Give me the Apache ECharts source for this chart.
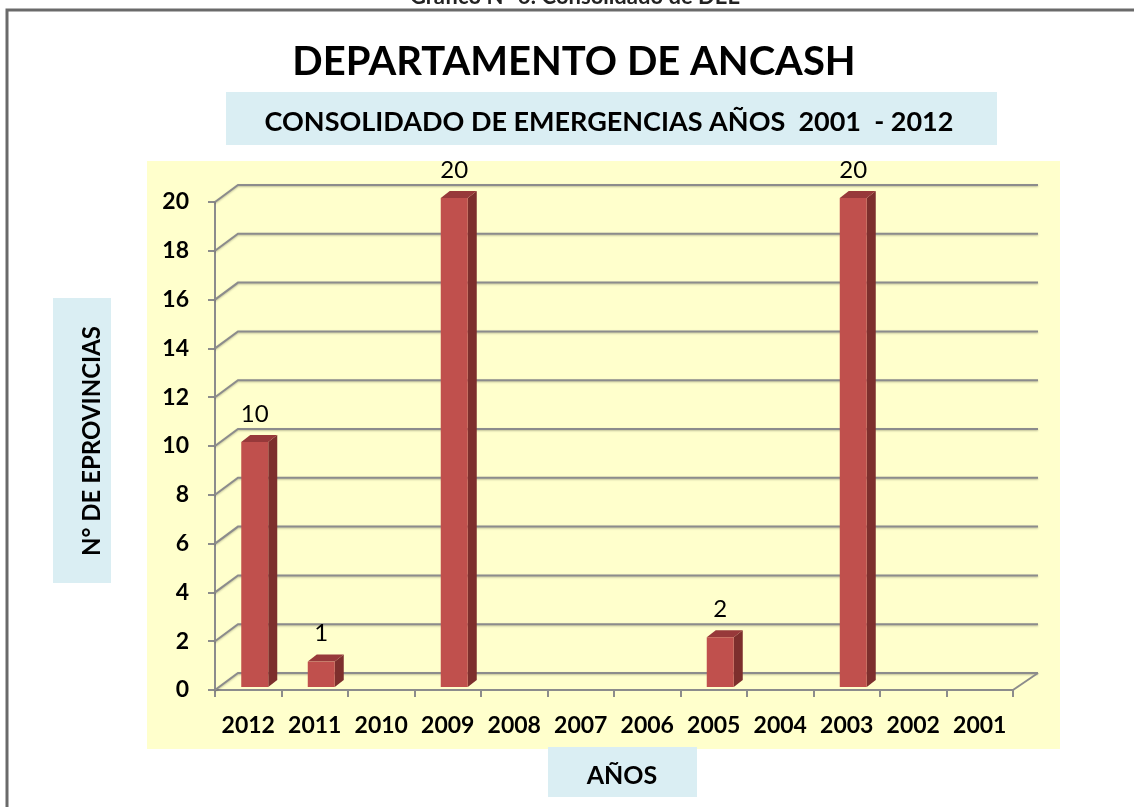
<!DOCTYPE html>
<html>
<head>
<meta charset="utf-8">
<title>Departamento de Ancash</title>
<script src="https://cdn.jsdelivr.net/npm/echarts@6/dist/echarts.min.js"></script>
<style>
  html, body { margin: 0; padding: 0; background: #fff; }
  #chart { width: 1134px; height: 807px; }
</style>
</head>
<body>
<div id="chart"></div>
<script>
// años (eje X, de más reciente a más antiguo)
const years = ['2012', '2011', '2010', '2009', '2008', '2007', '2006', '2005', '2004', '2003', '2002', '2001'];
// número de provincias en emergencia por año
const provincias = [10, 1, 0, 20, 0, 0, 0, 2, 0, 20, 0, 0];
// marcas del eje Y
const yTicks = [0, 2, 4, 6, 8, 10, 12, 14, 16, 18, 20];

const FONT = 'Lato';
// desplazamiento de la pared del fondo (efecto 3D)
const DX = 23, DY = -17;
const GRID_COLOR = '#8c8c8c';

const chart = echarts.init(document.getElementById('chart'));

// líneas de la pared y del piso en perspectiva
function renderWalls(params, api) {
    const cs = params.coordSys;
    const v = api.value(1);
    const y = api.coord([0, v])[1];
    const x0 = cs.x, x1 = cs.x + cs.width;
    const children = [{
        type: 'polyline',
        shape: { points: [[x0, y], [x0 + DX, y + DY], [x1 + DX + 2, y + DY]] },
        style: { stroke: GRID_COLOR, lineWidth: 2, fill: null,
                 shadowColor: 'rgba(0,0,0,0.25)', shadowBlur: 2, shadowOffsetY: 1 }
    }];
    if (v === 0) {
        children.push({
            type: 'line',
            shape: { x1: x1, y1: y, x2: x1 + DX + 2, y2: y + DY },
            style: { stroke: GRID_COLOR, lineWidth: 2 }
        });
    }
    return { type: 'group', children: children };
}

// barras 3D: cara frontal, lateral y superior
function renderBar(params, api) {
    const i = api.value(0);
    const v = api.value(1);
    if (!v) return;
    const top = api.coord([i, v]);
    const base = api.coord([i, 0]);
    const w = 27, bx = 9, by = -7;
    const fx0 = top[0] - 7, fx1 = fx0 + w;
    const fyTop = top[1] - 4, fyBot = base[1] - 3;
    return {
        type: 'group',
        children: [
            { type: 'polygon',
              shape: { points: [[fx1, fyTop], [fx1 + bx, fyTop + by], [fx1 + bx, fyBot + by], [fx1, fyBot]] },
              style: { fill: '#7d2f2d' } },
            { type: 'polygon',
              shape: { points: [[fx0, fyTop], [fx0 + bx, fyTop + by], [fx1 + bx, fyTop + by], [fx1, fyTop]] },
              style: { fill: '#97393a' } },
            { type: 'rect',
              shape: { x: fx0, y: fyTop, width: w, height: fyBot - fyTop },
              style: { fill: '#c0504d' } },
            { type: 'text',
              x: fx0 + w / 2, y: fyTop - 28,
              style: { text: String(v), fill: '#000', font: '24px ' + FONT,
                       align: 'center', verticalAlign: 'middle' } }
        ]
    };
}

const option = {
    animation: false,
    backgroundColor: '#fff',
    graphic: {
        elements: [
            // marco exterior
            { type: 'rect', z: -20, shape: { x: 7, y: 10, width: 1140, height: 820 },
              style: { fill: '#fff', stroke: '#6a6a6a', lineWidth: 3 } },
            // texto cortado en la parte superior
            { type: 'text', z: -20, x: 575, y: 8,
              style: { text: 'Gráfico N° 6: Consolidado de DEE', font: 'bold 22px ' + FONT,
                       fill: '#222', align: 'center', verticalAlign: 'bottom' } },
            // área amarilla
            { type: 'rect', z: -10, shape: { x: 147, y: 161, width: 913, height: 588 },
              style: { fill: '#ffffcc' } },
            // título
            { type: 'text', z: 5, x: 574, y: 62,
              style: { text: 'DEPARTAMENTO DE ANCASH', font: 'bold 40px ' + FONT,
                       fill: '#000', align: 'center', verticalAlign: 'middle' } },
            // subtítulo
            { type: 'rect', z: -5, shape: { x: 226, y: 92, width: 771, height: 53 },
              style: { fill: '#daeef3' } },
            { type: 'text', z: 5, x: 609, y: 122,
              style: { text: 'CONSOLIDADO DE EMERGENCIAS AÑOS  2001  - 2012', font: 'bold 27px ' + FONT,
                       fill: '#000', align: 'center', verticalAlign: 'middle' } },
            // título eje Y
            { type: 'rect', z: -5, shape: { x: 53, y: 298, width: 58, height: 285 },
              style: { fill: '#daeef3' } },
            { type: 'text', z: 5, x: 92, y: 441, rotation: Math.PI / 2,
              style: { text: 'N° DE EPROVINCIAS', font: 'bold 24px ' + FONT,
                       fill: '#000', align: 'center', verticalAlign: 'middle' } },
            // título eje X
            { type: 'rect', z: -5, shape: { x: 548, y: 747, width: 149, height: 50 },
              style: { fill: '#daeef3' } },
            { type: 'text', z: 5, x: 622, y: 776,
              style: { text: 'AÑOS', font: 'bold 25px ' + FONT,
                       fill: '#000', align: 'center', verticalAlign: 'middle' } }
        ]
    },
    grid: {
        left: 215,
        right: 121,
        top: 202,
        bottom: 117,
        containLabel: false
    },
    xAxis: {
        type: 'category',
        data: years,
        boundaryGap: true,
        axisLine: { show: true, lineStyle: { color: GRID_COLOR, width: 2 } },
        axisTick: { show: true, interval: 0, length: 7, lineStyle: { color: GRID_COLOR, width: 2 } },
        axisLabel: { interval: 0, hideOverlap: false, color: '#000', fontFamily: FONT,
                     fontWeight: 'bold', fontSize: 23, margin: 24 },
        splitLine: { show: false }
    },
    yAxis: {
        type: 'value',
        min: 0,
        max: 20,
        interval: 2,
        axisLine: { show: true, lineStyle: { color: GRID_COLOR, width: 2 } },
        axisTick: { show: true, length: 7, lineStyle: { color: GRID_COLOR, width: 2 } },
        axisLabel: { color: '#000', fontFamily: FONT, fontWeight: 'bold', fontSize: 23, margin: 26 },
        splitLine: { show: false }
    },
    series: [
        {
            name: 'pared',
            type: 'custom',
            clip: false,
            silent: true,
            z: 1,
            renderItem: renderWalls,
            data: yTicks.map(v => [0, v])
        },
        {
            name: 'Provincias',
            type: 'custom',
            clip: false,
            z: 3,
            renderItem: renderBar,
            data: years.map((y, i) => [i, provincias[i]])
        }
    ]
};

chart.setOption(option);
</script>
</body>
</html>
